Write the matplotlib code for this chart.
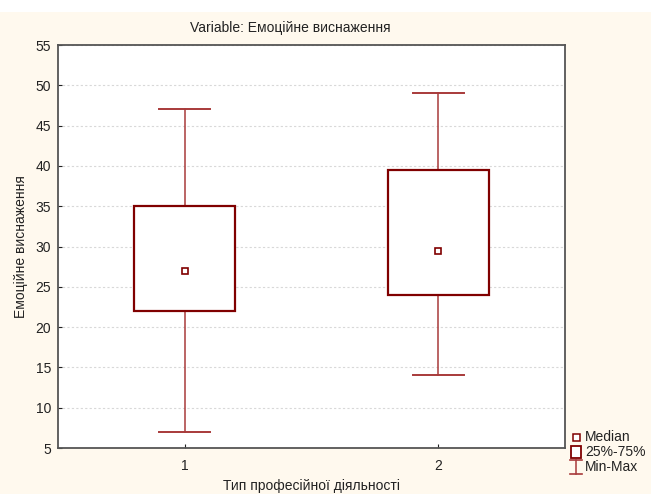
import matplotlib
matplotlib.use("Agg")
from matplotlib import pyplot as plt
from matplotlib.patches import Rectangle
from matplotlib.lines import Line2D

plt.rcParams['font.family'] = ['Liberation Sans', 'DejaVu Sans']

groups = [1, 2]
medians = [27.0, 29.5]
q25 = [22.0, 24.0]
q75 = [35.0, 39.5]
mins = [7.0, 14.0]
maxs = [47.0, 49.0]

yticks = list(range(5, 56, 5))
legend_labels = ['Median', '25%-75%', 'Min-Max']

BOX = '#800000'
WHISK = '#A83A3A'
BG = '#FFF9EE'
W, H = 651, 494

fig = plt.figure(figsize=(W / 100, H / 100), dpi=100, facecolor=BG)
# white strip at the very top
fig.patches.append(Rectangle((0, 1 - 12 / H), 1, 12 / H, transform=fig.transFigure,
                             facecolor='white', edgecolor='none', zorder=0))

ax = fig.add_axes([58 / W, 1 - 448 / H, (565 - 58) / W, (448 - 45) / H])
ax.set_facecolor('white')

box_w = 0.4
cap_w = 0.2
for x, med, lo, hi, mn, mx in zip(groups, medians, q25, q75, mins, maxs):
    # whiskers
    ax.plot([x, x], [hi, mx], color=WHISK, lw=1.1, zorder=2)
    ax.plot([x, x], [mn, lo], color=WHISK, lw=1.1, zorder=2)
    ax.plot([x - cap_w / 2, x + cap_w / 2], [mx, mx], color=WHISK, lw=1.4, zorder=2)
    ax.plot([x - cap_w / 2, x + cap_w / 2], [mn, mn], color=WHISK, lw=1.4, zorder=2)
    # box
    ax.add_patch(Rectangle((x - box_w / 2, lo), box_w, hi - lo, facecolor='white',
                           edgecolor=BOX, lw=1.6, zorder=3))
    # median
    ax.plot([x], [med], marker='s', ms=5, mfc='white', mec=BOX, mew=1.2, ls='none', zorder=4)

ax.set_xlim(0.5, 2.5)
ax.set_ylim(5, 55)
ax.set_xticks(groups)
ax.set_yticks(yticks)
ax.yaxis.grid(True, color='#d8d8d8', ls=(0, (2, 2)), lw=0.8)
ax.set_axisbelow(True)
ax.tick_params(direction='in', length=3, labelsize=10, colors='#222222', width=0.8)
ax.tick_params(axis='x', pad=8)
ax.tick_params(axis='y', pad=5)
for s in ax.spines.values():
    s.set_color('#555555')
    s.set_linewidth(1.3)

ax.set_xlabel('Тип професійної діяльності', fontsize=10, color='#222222', labelpad=4)
ax.set_ylabel('Емоційне виснаження', fontsize=10, color='#222222', labelpad=5)
fig.text(290 / W, 1 - 28 / H, 'Variable: Емоційне виснаження', ha='center', va='center',
         fontsize=10, color='#222222')


def fx(px):
    return px / W


def fy(py):
    return 1 - py / H


# legend, drawn by hand in pixel positions
lx = 576
rows = [437, 452, 467]
# median symbol
fig.add_artist(Rectangle((fx(lx - 3.5), fy(rows[0] + 3.5)), 7 / W, 7 / H, transform=fig.transFigure,
                         facecolor='white', edgecolor=BOX, lw=1.1))
# box symbol
fig.add_artist(Rectangle((fx(lx - 5), fy(rows[1] + 6)), 10 / W, 12 / H, transform=fig.transFigure,
                         facecolor='white', edgecolor=BOX, lw=1.3))
# min-max symbol
y0, y1 = rows[2] - 7, rows[2] + 7
fig.add_artist(Line2D([fx(lx), fx(lx)], [fy(y0), fy(y1)], transform=fig.transFigure, color=WHISK, lw=1.1))
fig.add_artist(Line2D([fx(lx - 6), fx(lx + 6)], [fy(y0), fy(y0)], transform=fig.transFigure, color=WHISK, lw=1.2))
fig.add_artist(Line2D([fx(lx - 6), fx(lx + 6)], [fy(y1), fy(y1)], transform=fig.transFigure, color=WHISK, lw=1.2))
for label, ry in zip(legend_labels, rows):
    fig.text(fx(lx + 9), fy(ry), label, ha='left', va='center', fontsize=10, color='#222222')

fig.savefig('out.png', dpi=100, facecolor=BG)
